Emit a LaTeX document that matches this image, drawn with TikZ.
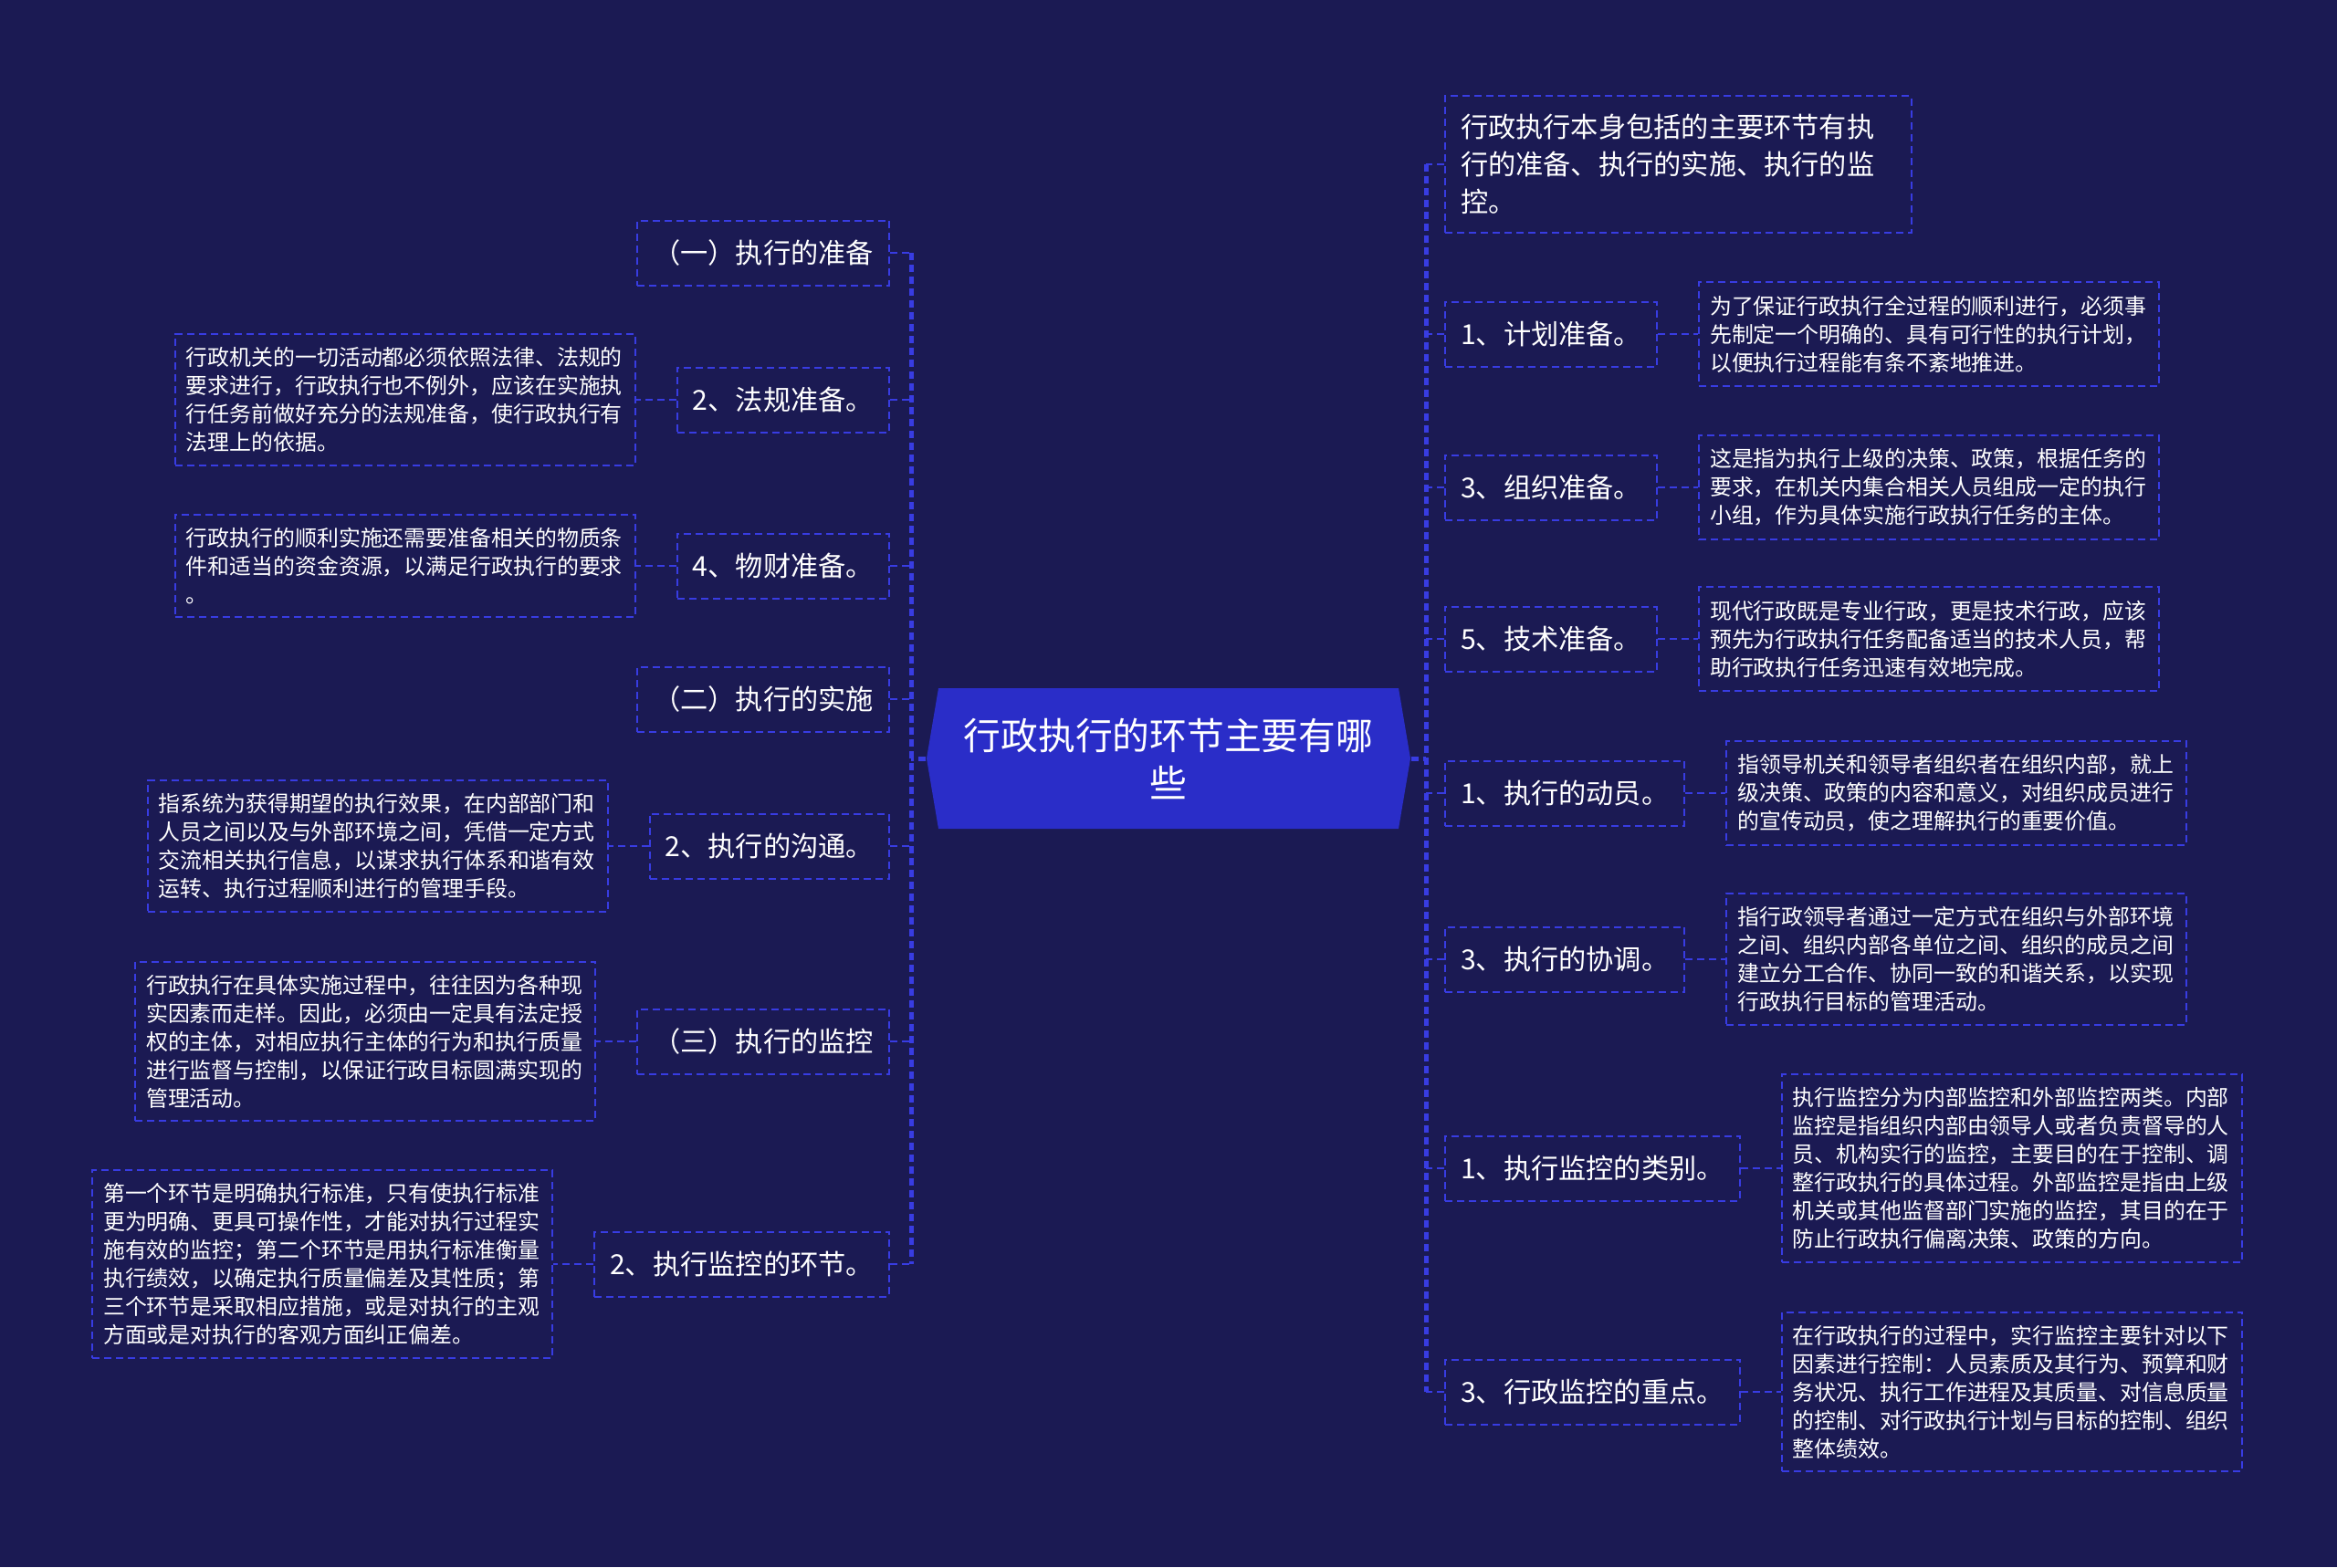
\documentclass[tikz,border=0pt]{standalone}
\usepackage{fontspec}
\setmainfont{Noto Sans CJK SC}
\usepackage{tikz}
\usetikzlibrary{positioning}
\definecolor{bgnavy}{RGB}{27,26,83}
\definecolor{lineblue}{RGB}{56,60,226}
\definecolor{rootblue}{RGB}{42,45,200}

\begin{document}
\begin{tikzpicture}[
			link/.style  = {draw=lineblue, line width=0.02cm, dash pattern=on 0.08cm off 0.05cm},
			spine/.style = {link, line width=0.05cm},
			topic/.style = {link, text=white, inner xsep=0.17cm, minimum height=0.71cm, font=\fontsize{8.6pt}{11.6pt}\selectfont},
			note/.style  = {topic, text width=4.8cm, align=left, inner xsep=0.12cm, inner ysep=0.145cm, minimum height=0pt, font=\fontsize{6.8pt}{8.8pt}\selectfont},
			root/.style  = {text=white, align=center, minimum width=5.3cm, minimum height=1.54cm, font=\fontsize{11.6pt}{14.8pt}\selectfont,
				path picture={\fill[rootblue] (path picture bounding box.west)
					-- ([xshift=0.13cm]path picture bounding box.north west) -- ([xshift=-0.13cm]path picture bounding box.north east)
					-- (path picture bounding box.east)
					-- ([xshift=-0.13cm]path picture bounding box.south east) -- ([xshift=0.13cm]path picture bounding box.south west) -- cycle;}},
			node distance=0.44cm]
			
			\useasboundingbox (0,0) rectangle (25.6,-17.17);
			\fill[bgnavy] (0,0) rectangle (25.6,-17.17);
			
			% root of the map
			\node[root] (root) at (12.80,-8.31) {行政执行的环节主要有哪\\些};
			\coordinate (lsp) at (9.98,0);
			\coordinate (rsp) at (15.62,0);
			
			% left side, level 1
			\begin{scope}[every node/.style={topic, anchor=east}]
				\node (l1) at (9.75,-2.77) {（一）执行的准备};
				\node (l2) at (9.75,-4.38) {2、法规准备。};
				\node (l3) at (9.75,-6.20) {4、物财准备。};
				\node (l4) at (9.75,-7.66) {（二）执行的实施};
				\node (l5) at (9.75,-9.27) {2、执行的沟通。};
				\node (l6) at (9.75,-11.41) {（三）执行的监控};
				\node (l7) at (9.75,-13.85) {2、执行监控的环节。};
			\end{scope}
			
			% left side, relatively positioned notes
			\node[note, left=of l2] (ln2) {行政机关的一切活动都必须依照法律、法规的\\要求进行，行政执行也不例外，应该在实施执\\行任务前做好充分的法规准备，使行政执行有\\法理上的依据。};
			\node[note, left=of l3] (ln3) {行政执行的顺利实施还需要准备相关的物质条\\件和适当的资金资源，以满足行政执行的要求\\。};
			\node[note, left=of l5] (ln5) {指系统为获得期望的执行效果，在内部部门和\\人员之间以及与外部环境之间，凭借一定方式\\交流相关执行信息，以谋求执行体系和谐有效\\运转、执行过程顺利进行的管理手段。};
			\node[note, left=of l6] (ln6) {行政执行在具体实施过程中，往往因为各种现\\实因素而走样。因此，必须由一定具有法定授\\权的主体，对相应执行主体的行为和执行质量\\进行监督与控制，以保证行政目标圆满实现的\\管理活动。};
			\node[note, left=of l7] (ln7) {第一个环节是明确执行标准，只有使执行标准\\更为明确、更具可操作性，才能对执行过程实\\施有效的监控；第二个环节是用执行标准衡量\\执行绩效，以确定执行质量偏差及其性质；第\\三个环节是采取相应措施，或是对执行的主观\\方面或是对执行的客观方面纠正偏差。};
			
			% right side, level 1
			\begin{scope}[every node/.style={topic, anchor=west}]
				\node[text width=4.77cm, align=left, inner ysep=0.2cm] (r0) at (15.82,-1.80) {行政执行本身包括的主要环节有执\\行的准备、执行的实施、执行的监\\控。};
				\node (r1) at (15.82,-3.66) {1、计划准备。};
				\node (r2) at (15.82,-5.34) {3、组织准备。};
				\node (r3) at (15.82,-7.00) {5、技术准备。};
				\node (r4) at (15.82,-8.69) {1、执行的动员。};
				\node (r5) at (15.82,-10.51) {3、执行的协调。};
				\node (r6) at (15.82,-12.80) {1、执行监控的类别。};
				\node (r7) at (15.82,-15.25) {3、行政监控的重点。};
			\end{scope}
			
			% right side, relatively positioned notes
			\node[note, right=of r1] (rn1) {为了保证行政执行全过程的顺利进行，必须事\\先制定一个明确的、具有可行性的执行计划，\\以便执行过程能有条不紊地推进。};
			\node[note, right=of r2] (rn2) {这是指为执行上级的决策、政策，根据任务的\\要求，在机关内集合相关人员组成一定的执行\\小组，作为具体实施行政执行任务的主体。};
			\node[note, right=of r3] (rn3) {现代行政既是专业行政，更是技术行政，应该\\预先为行政执行任务配备适当的技术人员，帮\\助行政执行任务迅速有效地完成。};
			\node[note, right=of r4] (rn4) {指领导机关和领导者组织者在组织内部，就上\\级决策、政策的内容和意义，对组织成员进行\\的宣传动员，使之理解执行的重要价值。};
			\node[note, right=of r5] (rn5) {指行政领导者通过一定方式在组织与外部环境\\之间、组织内部各单位之间、组织的成员之间\\建立分工合作、协同一致的和谐关系，以实现\\行政执行目标的管理活动。};
			\node[note, right=of r6] (rn6) {执行监控分为内部监控和外部监控两类。内部\\监控是指组织内部由领导人或者负责督导的人\\员、机构实行的监控，主要目的在于控制、调\\整行政执行的具体过程。外部监控是指由上级\\机关或其他监督部门实施的监控，其目的在于\\防止行政执行偏离决策、政策的方向。};
			\node[note, right=of r7] (rn7) {在行政执行的过程中，实行监控主要针对以下\\因素进行控制：人员素质及其行为、预算和财\\务状况、执行工作进程及其质量、对信息质量\\的控制、对行政执行计划与目标的控制、组织\\整体绩效。};
			
			% spines from the root to every level 1 node
			\draw[spine] (root.west) -- (root.west -| lsp);
			\draw[spine] (root.east) -- (root.east -| rsp);
			\draw[spine] (l1.east -| lsp) -- (l7.east -| lsp);
			\draw[spine] (r0.west -| rsp) -- (r7.west -| rsp);
			
			\foreach \value in {1,...,7}
			\draw[link] (l\value.east) -- (l\value.east -| lsp);
			
			\foreach \value in {0,...,7}
			\draw[link] (r\value.west) -- (r\value.west -| rsp);
			
			% lines from level 1 nodes to their notes
			\foreach \value in {2,3,5,6,7}
			\draw[link] (l\value.west) -- (ln\value.east);
			
			\foreach \value in {1,...,7}
			\draw[link] (r\value.east) -- (rn\value.west);
		\end{tikzpicture}
\end{document}
